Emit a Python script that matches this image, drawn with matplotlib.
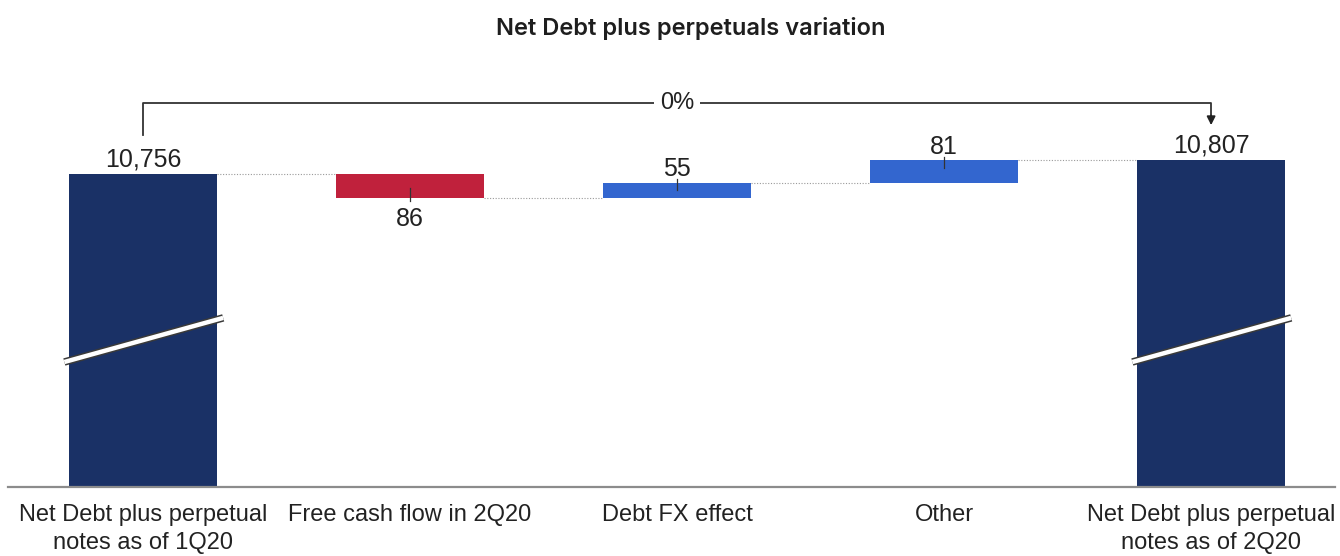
import matplotlib
matplotlib.use("Agg")
import matplotlib.pyplot as plt
import matplotlib.patheffects as pe
from matplotlib.transforms import blended_transform_factory

# --- data ---------------------------------------------------------------
categories = [
    "Net Debt plus perpetual\nnotes as of 1Q20",
    "Free cash flow in 2Q20",
    "Debt FX effect",
    "Other",
    "Net Debt plus perpetual\nnotes as of 2Q20",
]
start_total = 10756
changes = [-86, 55, 81]
end_total = 10807
variation_label = "0%"
title = "Net Debt plus perpetuals variation"

# --- styling ------------------------------------------------------------
NAVY = "#1a3166"
RED = "#c0213c"
BLUE = "#3366cf"
NUM_FONT = ["Liberation Sans", "DejaVu Sans"]
CAT_FONT = ["Liberation Sans Narrow", "Liberation Sans", "DejaVu Sans"]
TITLE_FONT = ["Inter", "Liberation Sans", "DejaVu Sans"]

W, H = 1340, 556
fig = plt.figure(figsize=(W / 100, H / 100), dpi=100)
ax = fig.add_axes([8 / W, (H - 487) / H, 1327 / W, 387 / H])

bar_w = 0.555
x = list(range(len(categories)))

# running totals for the floating bars
levels = [start_total]
for c in changes:
    levels.append(levels[-1] + c)

# total bars start at zero; the axis window cuts them off (broken axis)
ax.bar([x[0], x[-1]], [start_total, end_total], width=bar_w, color=NAVY, zorder=2)

for i, c in enumerate(changes):
    lo, hi = sorted((levels[i], levels[i + 1]))
    ax.bar(x[i + 1], hi - lo, bottom=lo, width=bar_w,
           color=RED if c < 0 else BLUE, zorder=2)

# dotted connectors between consecutive bars
for i in range(len(x) - 1):
    y = levels[i]
    ax.plot([x[i] + bar_w / 2, x[i + 1] - bar_w / 2], [y, y],
            ls=(0, (1, 1.5)), lw=0.8, color="#9a9a9a", zorder=1)

ax.set_xlim(-0.506, 4.464)
ax.set_ylim(9618, 11025)

# value labels
def fmt(v):
    return f"{abs(v):,}"

LABEL_KW = dict(textcoords="offset points", ha="center", fontsize=18,
                family=NUM_FONT, color="#222222")

ax.annotate(fmt(start_total), (x[0], start_total), xytext=(0, 2),
            va="bottom", **LABEL_KW)
ax.annotate(fmt(end_total), (x[-1], end_total), xytext=(0, 2),
            va="bottom", **LABEL_KW)

for i, c in enumerate(changes):
    xi = x[i + 1]
    edge = levels[i + 1]
    if c < 0:
        ax.plot([xi, xi], [edge + 36, edge - 11],
                color="#333333", lw=0.9, zorder=3)
        ax.annotate(fmt(c), (xi, edge), xytext=(0, -7), va="top", **LABEL_KW)
    else:
        ax.plot([xi, xi], [edge + 11, edge - 29],
                color="#333333", lw=0.9, zorder=3)
        ax.annotate(fmt(c), (xi, edge), xytext=(0, 1), va="bottom", **LABEL_KW)

# axis break marks on the total bars
bt = blended_transform_factory(ax.transData, ax.transAxes)
for xi in (x[0], x[-1]):
    ax.plot([xi - 0.295, xi + 0.30], [0.323, 0.437], transform=bt,
            color="white", lw=3.2, solid_capstyle="butt", zorder=4,
            path_effects=[pe.Stroke(linewidth=5.4, foreground="#3a3a3a"),
                          pe.Normal()])

# bracket showing overall variation
y_br = 0.992
ax.plot([x[0], x[0], x[-1], x[-1]], [0.909, y_br, y_br, 0.955],
        transform=bt, color="#333333", lw=1.3, clip_on=False, zorder=3)
ax.annotate("", xy=(x[-1], 0.935), xytext=(x[-1], 0.96),
            xycoords=bt, textcoords=bt,
            arrowprops=dict(arrowstyle="-|>,head_length=0.5,head_width=0.25",
                            color="#222222", lw=1.3, shrinkA=0, shrinkB=0))
ax.text(x[2], y_br, variation_label, transform=bt, ha="center", va="center",
        fontsize=17, family=NUM_FONT, color="#222222",
        bbox=dict(facecolor="white", edgecolor="none", pad=4), zorder=5)

# axes styling
for s in ("top", "left", "right"):
    ax.spines[s].set_visible(False)
ax.spines["bottom"].set_color("#8c8c8c")
ax.spines["bottom"].set_linewidth(1.6)
ax.set_yticks([])
ax.set_xticks(x)
ax.set_xticklabels(categories, fontsize=17, family=CAT_FONT, color="#222222",
                   linespacing=1.35)
ax.tick_params(axis="x", length=0, pad=12)

fig.text(691 / W, 1 - 28 / H, title, ha="center", va="center",
         fontsize=17, family=TITLE_FONT, fontweight=600, color="#1e1e1e")

fig.savefig("out.png", dpi=100)
